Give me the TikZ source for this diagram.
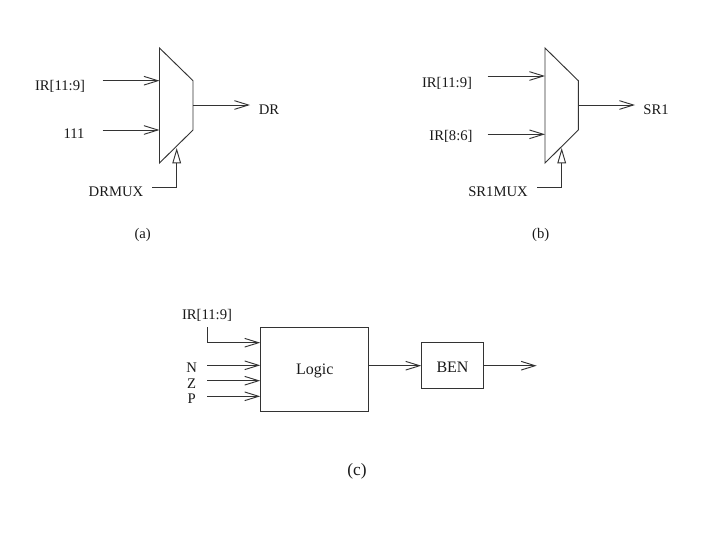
\documentclass[tikz,border=0pt]{standalone}
\usepackage{fontspec}
\setmainfont{Liberation Serif}
\usetikzlibrary{positioning,arrows.meta,calc}

\begin{document}
\begin{tikzpicture}[x=0.75pt,y=-0.75pt,>={Straight Barb[length=10.5pt,width=6.5pt]},
  line width=0.7pt,draw=black!80,
  lab/.style={inner sep=0pt,anchor=base,font=\fontsize{11}{12}\selectfont,text=black!90},
  sel/.style={-{Triangle[open,fill=white,length=11.5pt,width=6.5pt]}},
  box/.style={draw,inner sep=0pt,font=\fontsize{12}{13}\selectfont,text=black!90}]
\useasboundingbox (0,0) rectangle (720,540);
% (a)
\draw (159.5,48) coordinate (ma) -- (193,80.7) -- (193,130) -- (159.5,163) -- cycle;
\node[lab] (a1) at (60,90) {IR[11:9]};
\node[lab] (a2) at (74,138) {111};
\node[lab] (ao) at (269,114) {DR};
\node[lab] (as) at (116,196.5) {DRMUX};
\node[lab] (acap) at (142.7,238.5) {(a)};
\coordinate (a1s) at (102.7,80.7);
\coordinate (a1e) at (159.5,80.7);
\coordinate (a2s) at (102.7,130);
\coordinate (a2e) at (159.5,130);
\coordinate (aos) at (193,105);
\coordinate (aoe) at (250,105);
\coordinate (ass) at (152,187.7);
\coordinate (asc) at (176.7,187.7);
\coordinate (ase) at (176.7,148);
% (b)
\draw (545,48) coordinate (mb) -- (578.3,80.7) -- (578.3,130) -- (545,163) -- cycle;
\node[lab] (b1) at (447,87) {IR[11:9]};
\node[lab] (b2) at (451,140) {IR[8:6]};
\node[lab] (bo) at (656,114) {SR1};
\node[lab] (bs) at (498,196.5) {SR1MUX};
\node[lab] (bcap) at (540.7,238.5) {(b)};
\coordinate (b1s) at (487.7,76);
\coordinate (b1e) at (545,76);
\coordinate (b2s) at (487.7,134.3);
\coordinate (b2e) at (545,134.3);
\coordinate (bos) at (578.3,105);
\coordinate (boe) at (635,105);
\coordinate (bss) at (537,187.7);
\coordinate (bsc) at (561.7,187.7);
\coordinate (bse) at (561.7,148);
\foreach \u/\v in {a1s/a1e,a2s/a2e,aos/aoe,b1s/b1e,b2s/b2e,bos/boe}
  \draw[->] (\u) -- (\v);
\foreach \u/\c/\v in {ass/asc/ase,bss/bsc/bse}
  \draw[sel] (\u) -- (\c) -- (\v);
% (c)
\node[box,minimum width=81pt,minimum height=63.3pt,text height=7pt,text depth=0pt] (logic) at (314.7,369.5) {Logic};
\node[box,minimum width=46.2pt,minimum height=34.5pt,text height=10pt,text depth=0pt] (ben) at (452.5,365.7) {BEN};
\coordinate (out) at (536.7,365.7);
\node[lab] (cir) at (207,319.5) {IR[11:9]};
\node[lab] (cn) at (191.7,372) {N};
\node[lab] (cz) at (191.7,388) {Z};
\node[lab] (cp) at (191.7,403) {P};
\node[lab,font=\fontsize{13}{14}\selectfont] (ccap) at (357,475) {(c)};
\coordinate (irs) at (207.3,327);
\coordinate (irc) at (207.3,342.7);
\coordinate (ns) at (207.3,365.3);
\coordinate (zs) at (207.3,380.7);
\coordinate (ps) at (207.3,396.3);
\draw[->] (irs) -- (irc) -- (irc -| logic.west);
\foreach \u in {ns,zs,ps}
  \draw[->] (\u) -- (\u -| logic.west);
\draw[->] (ben.west -| logic.east) -- (ben.west);
\draw[->] (ben.east) -- (out);
\end{tikzpicture}
\end{document}
